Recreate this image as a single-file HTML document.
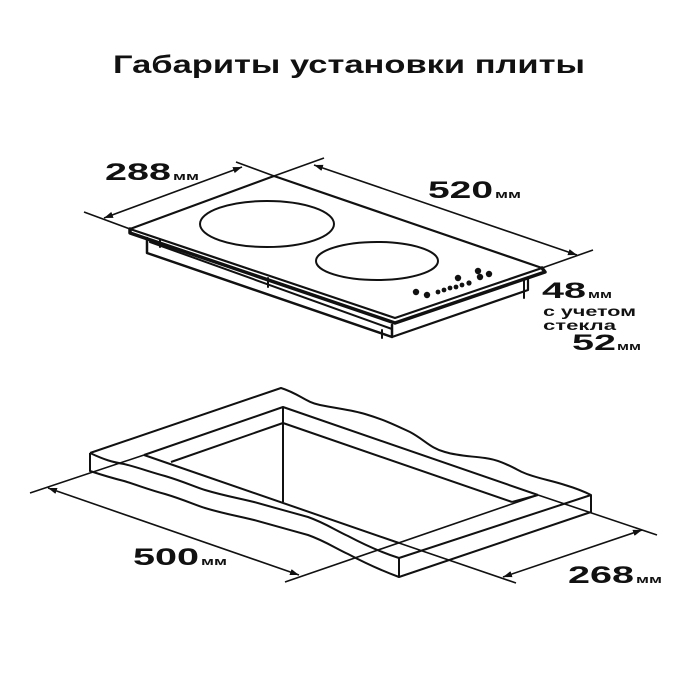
<!DOCTYPE html>
<html><head><meta charset="utf-8"><style>
html,body{margin:0;padding:0;background:#fff}
svg{display:block}
text{font-family:"Liberation Sans","DejaVu Sans",sans-serif;font-weight:bold;fill:#111}
</style></head><body>
<svg width="700" height="700" viewBox="0 0 700 700" xmlns="http://www.w3.org/2000/svg">
<defs>
<marker id="ar" viewBox="0 0 10 10" refX="10" refY="5" markerWidth="9" markerHeight="9" orient="auto-start-reverse" markerUnits="userSpaceOnUse">
<path d="M0,1.5 L10,5 L0,8.5 z" fill="#111"/></marker>
</defs>
<text x="113" y="73" font-size="25" textLength="472" lengthAdjust="spacingAndGlyphs">Габариты установки плиты</text>

<g stroke="#111" fill="none" stroke-linecap="round" stroke-linejoin="round">
<path d="M130,229 L274,176 L542,268 L395,318 Z" stroke-width="2.2"/>
<path d="M130,229 L130,233 L395,323 L545,272 L542,268" stroke-width="3.5"/>
<path d="M147,238 L147,253 L392,337 L392,325" stroke-width="2.5"/>
<path d="M150,242 L392,329" stroke-width="2"/>
<path d="M392,337 L528,290 L528,278" stroke-width="2.2"/>
<path d="M160,240 L160,247 M268,278 L268,287 M382,330 L382,338 M524,279 L524,298" stroke-width="2"/>
<ellipse cx="267" cy="224" rx="67" ry="23" stroke-width="2"/>
<ellipse cx="377" cy="261" rx="61" ry="19" stroke-width="2"/>
</g>
<g fill="#111">
<circle cx="416" cy="292" r="3.2"/><circle cx="427" cy="295" r="3.2"/>
<circle cx="438" cy="292" r="2.4"/><circle cx="444" cy="290" r="2.4"/><circle cx="450" cy="288" r="2.4"/><circle cx="456" cy="287" r="2.4"/><circle cx="462" cy="285" r="2.4"/><circle cx="469" cy="283" r="2.6"/>
<circle cx="458" cy="278" r="3.2"/><circle cx="478" cy="271" r="3.2"/><circle cx="480" cy="277" r="3.2"/><circle cx="489" cy="274" r="3.2"/>
</g>
<g stroke="#111" fill="none" stroke-width="1.6">
<line x1="84" y1="212" x2="130" y2="229"/>
<line x1="236" y1="162" x2="274" y2="176"/>
<line x1="104" y1="218" x2="242" y2="167" marker-start="url(#ar)" marker-end="url(#ar)"/>
<line x1="274" y1="176" x2="324" y2="158"/>
<line x1="542" y1="268" x2="593" y2="250"/>
<line x1="314" y1="165" x2="577" y2="255" marker-start="url(#ar)" marker-end="url(#ar)"/>
</g>
<text x="105" y="180" font-size="24" textLength="66" lengthAdjust="spacingAndGlyphs">288</text>
<text x="173" y="180" font-size="11" textLength="26" lengthAdjust="spacingAndGlyphs">мм</text>
<text x="428" y="198" font-size="24" textLength="65" lengthAdjust="spacingAndGlyphs">520</text>
<text x="495" y="198" font-size="11" textLength="26" lengthAdjust="spacingAndGlyphs">мм</text>
<text x="542" y="298" font-size="22" textLength="44" lengthAdjust="spacingAndGlyphs">48</text>
<text x="588" y="298" font-size="11" textLength="24" lengthAdjust="spacingAndGlyphs">мм</text>
<text x="543" y="316" font-size="14" textLength="93" lengthAdjust="spacingAndGlyphs">с учетом</text>
<text x="543" y="330" font-size="14" textLength="73" lengthAdjust="spacingAndGlyphs">стекла</text>
<text x="572" y="350" font-size="22" textLength="44" lengthAdjust="spacingAndGlyphs">52</text>
<text x="617" y="350" font-size="11" textLength="24" lengthAdjust="spacingAndGlyphs">мм</text>

<g stroke="#111" fill="none" stroke-width="2" stroke-linejoin="round">
<path d="M90,453 L281,388 C300,394 305,402 320,405 C340,409 352,410 365,414 C385,420 395,425 410,432 C425,440 430,448 445,452 C458,456 470,456 485,458 C500,460 510,466 522,472 C535,478 550,480 565,485 C575,488 585,492 591,495 L591,512 L399,577 L399,558"/>
<path d="M90,453 L90,471 C105,476 112,478 124,481 C140,486 150,490 165,494 C185,500 195,505 205,508 C225,514 238,516 254,520 C275,526 290,530 308,535 C325,541 335,548 348,554 C365,563 380,570 399,577"/>
<path d="M90,453 C105,460 112,462 124,464 C140,468 150,472 165,476 C185,482 195,487 205,490 C225,496 238,498 254,502 C275,508 290,512 308,517 C325,523 335,530 348,536 C365,545 380,552 399,558 L591,495"/>
<path d="M144,455 L283,407 L538,495"/>
<path d="M283,407 L283,502"/>
<path d="M144,455 L399,543"/>
<path d="M171,462 L283,423 L512,502"/>
<path d="M512,502 L538,495"/>
</g>
<g stroke="#111" fill="none" stroke-width="1.6">
<line x1="30" y1="493" x2="144" y2="455"/>
<line x1="285" y1="582" x2="538" y2="495"/>
<line x1="48" y1="488" x2="299" y2="575" marker-start="url(#ar)" marker-end="url(#ar)"/>
<line x1="399" y1="543" x2="516" y2="583"/>
<line x1="538" y1="495" x2="657" y2="535"/>
<line x1="503" y1="577" x2="642" y2="530" marker-start="url(#ar)" marker-end="url(#ar)"/>
</g>
<text x="133" y="565" font-size="24" textLength="66" lengthAdjust="spacingAndGlyphs">500</text>
<text x="201" y="565" font-size="11" textLength="26" lengthAdjust="spacingAndGlyphs">мм</text>
<text x="568" y="583" font-size="24" textLength="66" lengthAdjust="spacingAndGlyphs">268</text>
<text x="636" y="583" font-size="11" textLength="26" lengthAdjust="spacingAndGlyphs">мм</text>
</svg>
</body></html>
